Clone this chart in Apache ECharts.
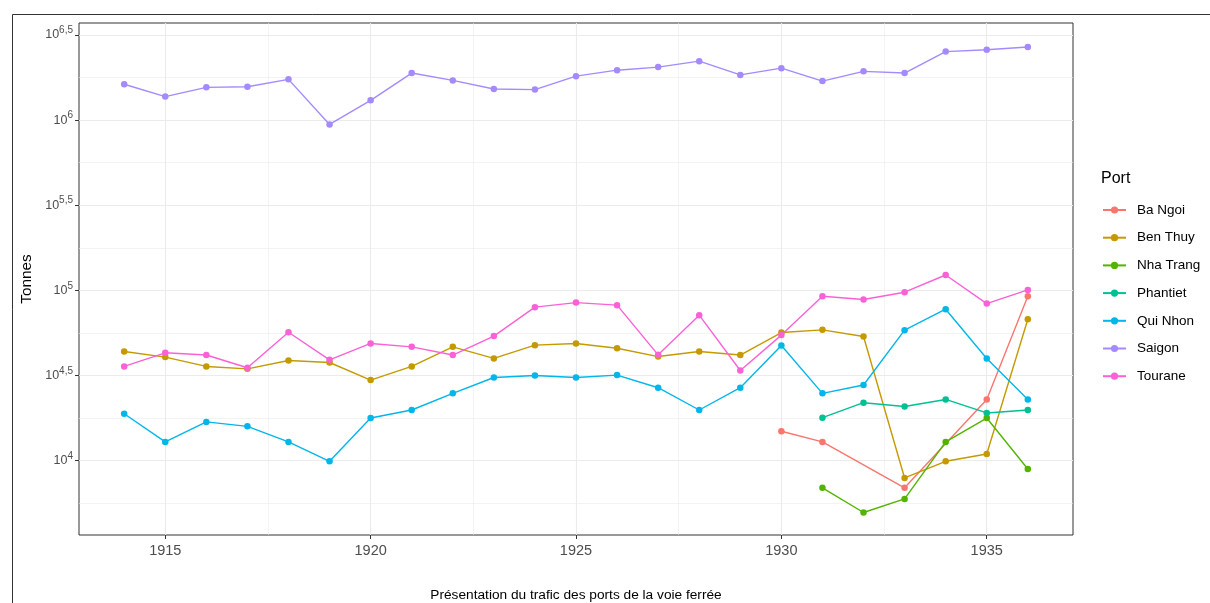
<!DOCTYPE html>
<html>
<head>
<meta charset="utf-8">
<script src="https://cdn.jsdelivr.net/npm/echarts@6/dist/echarts.min.js"></script>
<style>
  html, body { margin: 0; padding: 0; background: #fff; }
  #chart { width: 1210px; height: 603px; }
</style>
</head>
<body>
<div id="chart"></div>
<script>
// données (tonnes)
const years = [1914, 1915, 1916, 1917, 1918, 1919, 1920, 1921, 1922, 1923, 1924, 1925,
  1926, 1927, 1928, 1929, 1930, 1931, 1932, 1933, 1934, 1935, 1936];
const ports = ['Ba Ngoi', 'Ben Thuy', 'Nha Trang', 'Phantiet', 'Qui Nhon', 'Saigon', 'Tourane'];
const colors = ['#F8766D', '#C49A00', '#53B400', '#00C094', '#00B6EB', '#A58AFF', '#FB61D7'];

const baNgoi = [null, null, null, null, null, null, null, null, null, null, null, null,
  null, null, null, null, 14860, 12880, null, 6918, null, 22860, 92260];
const benThuy = [43750, 40550, 35730, 34590, 38730, 37670, 29720, 35730, 46560, 39810, 47640, 48750,
  45710, 40830, 43750, 41690, 56490, 58610, 53580, 7907, 9908, 10940, 67610];
const nhaTrang = [null, null, null, null, null, null, null, null, null, null, null, null,
  null, null, null, null, null, 6918, 4955, 5957, 12880, 17780, 8933];
const phantiet = [null, null, null, null, null, null, null, null, null, null, null, null,
  null, null, null, null, null, 17860, 21880, 20800, 22860, 19050, 19820];
const quiNhon = [18840, 12880, 16870, 15890, 12880, 9908, 17780, 19820, 24830, 30760, 31620, 30760,
  31770, 26790, 19820, 26790, 47420, 24830, 27800, 58340, 77450, 39810, 22860];
const saigon = [1622000, 1374000, 1556000, 1570000, 1734000, 942000, 1306000, 1888000, 1710000, 1521000, 1510000, 1811000,
  1963000, 2046000, 2218000, 1841000, 2018000, 1694000, 1932000, 1888000, 2523000, 2588000, 2685000];
const tourane = [35730, 42950, 41690, 35080, 56750, 39080, 48750, 46560, 41690, 53830, 79620, 84720,
  81850, 41780, 71450, 33810, 54580, 92260, 88310, 97500, 123000, 83560, 100500];
const seriesValues = [baNgoi, benThuy, nhaTrang, phantiet, quiNhon, saigon, tourane];

// graduations
const xBreaks = [1915, 1920, 1925, 1930, 1935];
const xMinor = [1917.5, 1922.5, 1927.5, 1932.5];
const yBreaks = [4, 4.5, 5, 5.5, 6, 6.5]; // log10(tonnes)
const yExpLabels = ['4', '4,5', '5', '5,5', '6', '6,5'];
const yMinor = [3.75, 4.25, 4.75, 5.25, 5.75, 6.25];

const FONT = 'Liberation Sans';
const chart = echarts.init(document.getElementById('chart'));

const xRange = { min: 1912.9, max: 1937.1 };
const yRange = { min: 3.563, max: 6.57 };

const series = ports.map((name, k) => ({
  name: name,
  type: 'line',
  xAxisIndex: 0,
  yAxisIndex: 0,
  symbol: 'circle',
  symbolSize: 6.5,
  color: colors[k],
  lineStyle: { width: 1.4 },
  z: 3,
  data: years.map((yr, i) => [yr, seriesValues[k][i]])
    .filter(d => d[1] != null)
    .map(d => [d[0], Math.log10(d[1])])
}));

chart.setOption({
  animation: false,
  textStyle: { fontFamily: FONT },
  title: {
    text: 'Port', left: 1096, top: 166,
    textStyle: { fontSize: 16, fontWeight: 'normal', color: '#000', fontFamily: FONT }
  },
  legend: {
    orient: 'vertical', left: 1097, top: 198,
    itemWidth: 23, itemHeight: 9, itemGap: 13.7,
    textStyle: { fontSize: 13.5, color: '#000', fontFamily: FONT, padding: [0, 0, 0, 6] },
    data: ports
  },
  graphic: [{
    type: 'rect', z: -10, silent: true,
    shape: { x: 12.5, y: 14.5, width: 1250, height: 650 },
    style: { fill: 'none', stroke: '#333', lineWidth: 1 }
  }],
  grid: [{
    left: 79, top: 23, right: 137, bottom: 68,
    outerBoundsMode: 'none', containLabel: false,
    show: true, borderColor: '#333333', borderWidth: 1, backgroundColor: 'transparent'
  }],
  xAxis: [{
    type: 'value', min: xRange.min, max: xRange.max, gridIndex: 0,
    name: 'Présentation du trafic des ports de la voie ferrée',
    nameLocation: 'middle', nameGap: 53,
    nameTextStyle: { fontSize: 13.7, color: '#000', fontFamily: FONT },
    axisLine: { show: false },
    axisTick: { show: true, length: 4, lineStyle: { color: '#333' }, customValues: xBreaks },
    axisLabel: {
      customValues: xBreaks, fontSize: 14.5, color: '#4D4D4D', margin: 8, fontFamily: FONT,
      formatter: v => String(Math.round(v))
    },
    splitLine: { show: true, lineStyle: { color: '#EBEBEB', width: 1.1 } }
  }, {
    type: 'value', min: xRange.min, max: xRange.max, gridIndex: 0,
    axisLine: { show: false },
    axisTick: { show: false, customValues: xMinor },
    axisLabel: { show: false, customValues: xMinor },
    splitLine: { show: true, lineStyle: { color: '#EBEBEB', width: 0.6 } }
  }],
  yAxis: [{
    type: 'value', min: yRange.min, max: yRange.max, gridIndex: 0,
    name: 'Tonnes', nameLocation: 'middle', nameGap: 40, nameRotate: 90,
    nameTextStyle: { fontSize: 15.3, color: '#000', fontFamily: FONT },
    axisLine: { show: false },
    axisTick: { show: true, length: 4, lineStyle: { color: '#333' }, customValues: yBreaks },
    axisLabel: {
      customValues: yBreaks, margin: 6, color: '#4D4D4D', fontSize: 12.5, fontFamily: FONT,
      formatter: v => {
        const i = yBreaks.findIndex(b => Math.abs(b - v) < 1e-6);
        return '10{s|' + (i >= 0 ? yExpLabels[i] : v) + '}';
      },
      rich: {
        s: { fontSize: 10, color: '#4D4D4D', fontFamily: FONT, verticalAlign: 'top', padding: [0, 0, 9, 0] }
      }
    },
    splitLine: { show: true, lineStyle: { color: '#EBEBEB', width: 1.1 } }
  }, {
    type: 'value', min: yRange.min, max: yRange.max, gridIndex: 0,
    axisLine: { show: false },
    axisTick: { show: false, customValues: yMinor },
    axisLabel: { show: false, customValues: yMinor },
    splitLine: { show: true, lineStyle: { color: '#EBEBEB', width: 0.6 } }
  }],
  series: series
});
</script>
</body>
</html>
